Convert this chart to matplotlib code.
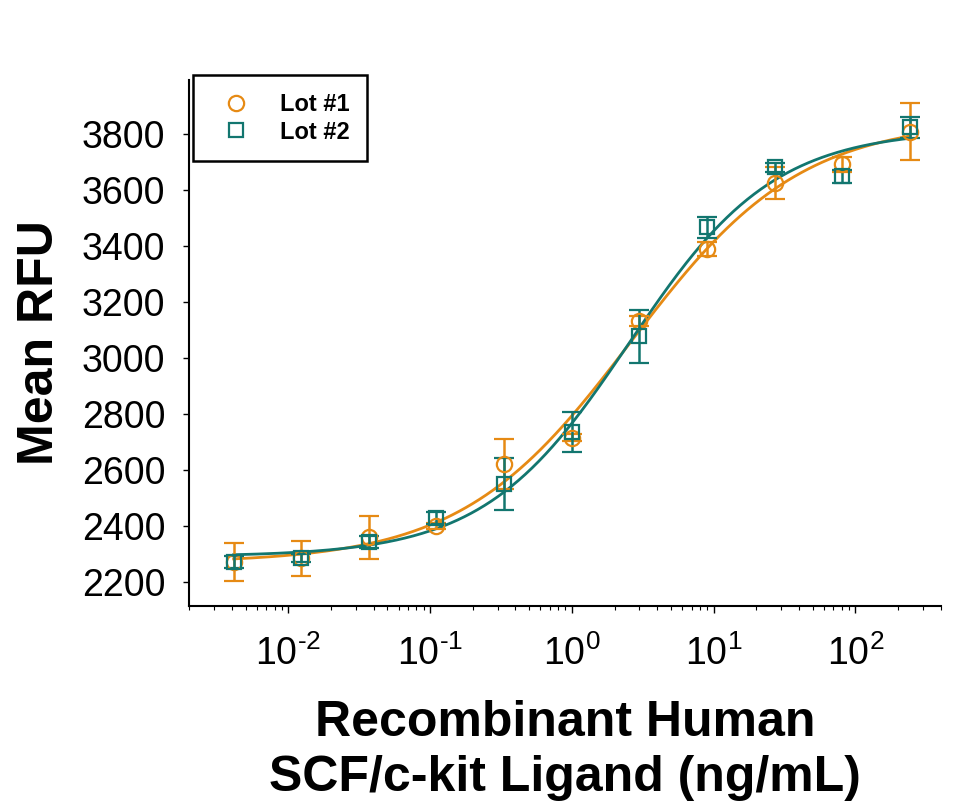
import numpy as np
import matplotlib
matplotlib.use("Agg")
import matplotlib.pyplot as plt
from matplotlib.lines import Line2D
from matplotlib.ticker import LogLocator, FuncFormatter, NullFormatter

plt.rcParams['font.family'] = ['Liberation Sans', 'DejaVu Sans']
plt.rcParams['mathtext.fontset'] = 'custom'
plt.rcParams['mathtext.rm'] = 'Liberation Sans'
plt.rcParams['mathtext.it'] = 'Liberation Sans'
plt.rcParams['mathtext.bf'] = 'Liberation Sans:bold'

# ---- data ----
dose = [0.00412, 0.0123, 0.037, 0.111, 0.333, 1.0, 3.0, 9.0, 27.0, 81.0, 243.0]
lot1_mean = [2271, 2285, 2360, 2400, 2620, 2715, 3130, 3387, 3625, 3690, 3807]
lot1_err = [68, 62, 77, 12, 89, 12, 18, 25, 57, 28, 102]
lot2_mean = [2271, 2287, 2343, 2428, 2549, 2735, 3077, 3465, 3679, 3647, 3822]
lot2_err = [21, 14, 21, 22, 93, 71, 95, 39, 16, 23, 37]
series_names = ["Lot #1", "Lot #2"]
colors = ["#E68A14", "#12766F"]
markers = ["o", "s"]
yticks = [2200, 2400, 2600, 2800, 3000, 3200, 3400, 3600, 3800]


def fit_4pl(x, y):
    """Least-squares 4-parameter logistic fit (grid over EC50/Hill, linear in bottom/top)."""
    x = np.asarray(x, float)
    y = np.asarray(y, float)
    logc = np.arange(-1.5, 2.0, 0.002)
    best = None
    for b in np.arange(0.3, 2.5, 0.005):
        f = 1.0 / (1.0 + (x[None, :] / 10 ** logc[:, None]) ** b)
        g = 1.0 - f
        s_ff = (f * f).sum(1); s_gg = (g * g).sum(1); s_fg = (f * g).sum(1)
        s_fy = (f * y).sum(1); s_gy = (g * y).sum(1)
        det = s_ff * s_gg - s_fg ** 2
        A = (s_fy * s_gg - s_gy * s_fg) / det
        D = (s_gy * s_ff - s_fy * s_fg) / det
        res = ((A[:, None] * f + D[:, None] * g - y) ** 2).sum(1)
        i = np.argmin(res)
        if best is None or res[i] < best[0]:
            best = (res[i], A[i], D[i], 10 ** logc[i], b)
    return best[1:]


def decade_fmt(v, pos):
    e = int(round(np.log10(v)))
    sup = ('-' + str(-e)) if e < 0 else str(e)
    return r'$\mathregular{10^{\text{' + sup + '}}}$'


fig = plt.figure(figsize=(9.8, 8.11), dpi=100)
ax = fig.add_axes([0.193, 0.253, 0.767, 0.648])

xs = np.logspace(np.log10(dose[0]), np.log10(dose[-1]), 400)
handles = []
for mean, err, c, m, name in zip([lot1_mean, lot2_mean], [lot1_err, lot2_err],
                                  colors, markers, series_names):
    A, D, C, B = fit_4pl(dose, mean)
    ax.plot(xs, D + (A - D) / (1 + (xs / C) ** B), color=c, lw=2, zorder=2)
    ax.errorbar(dose, mean, yerr=err, fmt=m, mfc='none', mec=c, ecolor=c,
                ms=11 if m == 'o' else 10, mew=1.6, elinewidth=1.8,
                capsize=7, capthick=1.8, zorder=3)
    handles.append(Line2D([], [], ls='none', marker=m, mfc='none', mec=c,
                          ms=11 if m == 'o' else 10, mew=1.6, label=name))

ax.set_xscale('log')
ax.set_xlim(0.002, 400)
ax.set_ylim(2115, 3990)
ax.set_yticks(yticks)
ax.xaxis.set_major_locator(LogLocator(base=10, numticks=20))
ax.xaxis.set_major_formatter(FuncFormatter(decade_fmt))
ax.xaxis.set_minor_locator(LogLocator(base=10, subs=np.arange(2, 10), numticks=20))
ax.xaxis.set_minor_formatter(NullFormatter())

for s in ['top', 'right']:
    ax.spines[s].set_visible(False)
for s in ['left', 'bottom']:
    ax.spines[s].set_linewidth(1.5)

ax.tick_params(axis='y', which='major', length=4, width=1, labelsize=27, pad=13)
ax.tick_params(axis='x', which='major', length=5, width=1, labelsize=27, pad=16)
ax.tick_params(axis='x', which='minor', length=3, width=0.8)

ax.set_ylabel('Mean RFU', fontsize=36, fontweight='bold', labelpad=14)
ax.set_xlabel('Recombinant Human\nSCF/c-kit Ligand (ng/mL)', fontsize=36,
              fontweight='bold', labelpad=20, linespacing=1.25)

leg = ax.legend(handles=handles, loc='upper left', bbox_to_anchor=(0.005, 1.0095),
                borderaxespad=0, fancybox=False, edgecolor='black', framealpha=1,
                prop={'weight': 'bold', 'size': 17}, borderpad=0.75,
                handlelength=2.17, handletextpad=0.75, labelspacing=0.2)
leg.get_frame().set_linewidth(1.8)

fig.savefig('out.png', dpi=100)
